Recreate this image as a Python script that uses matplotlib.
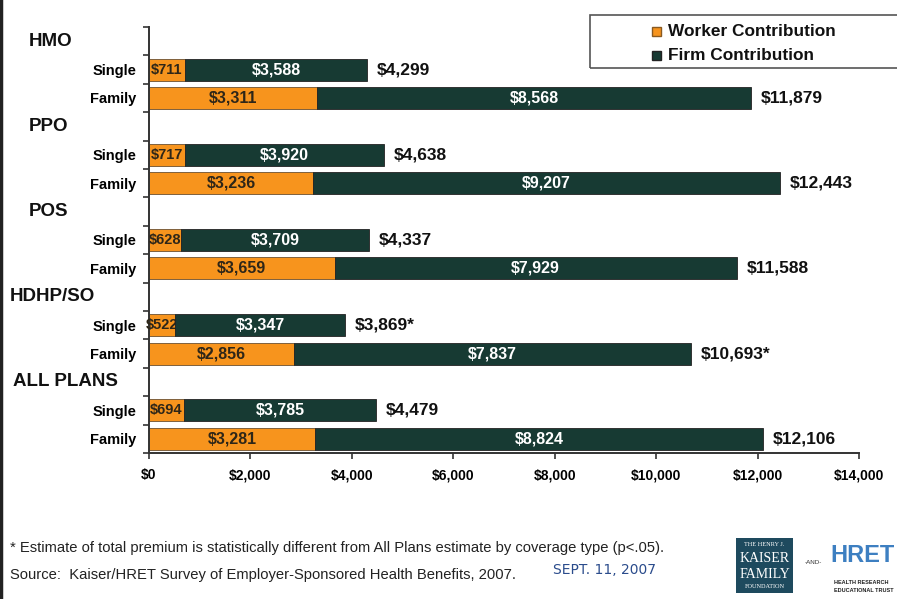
import matplotlib
matplotlib.use("Agg")
import matplotlib.pyplot as plt
import matplotlib.patches as mpatches
import matplotlib.transforms as mtransforms
import numpy as np

plt.rcParams["font.family"] = ["Liberation Sans", "DejaVu Sans"]

# ── Premium data (annual, 2007) ───────────────────────────────────────────────
plans = ["HMO", "PPO", "POS", "HDHP/SO", "ALL PLANS"]
coverage = ["Single", "Family"]

worker_single = [711, 717, 628, 522, 694]
firm_single = [3588, 3920, 3709, 3347, 3785]
total_single = [4299, 4638, 4337, 3869, 4479]

worker_family = [3311, 3236, 3659, 2856, 3281]
firm_family = [8568, 9207, 7929, 7837, 8824]
total_family = [11879, 12443, 11588, 10693, 12106]

# plans whose total differs significantly from All Plans
significant = [False, False, False, True, False]

x_ticks = [0, 2000, 4000, 6000, 8000, 10000, 12000, 14000]

ORANGE = "#F7941D"
FIRM = "#173A33"

W, H = 897, 599
fig = plt.figure(figsize=(W / 100, H / 100), dpi=100)
ax = fig.add_axes([149 / W, 1 - 453 / H, (859 - 149) / W, (453 - 27) / H])


def fx(x):
    return x / W


def fy(y):
    return 1 - y / H


# each plan takes 3 rows: header, single, family
n_rows = len(plans) * 3
rows_y, rows_lbl = [], []
for i, plan in enumerate(plans):
    base = i * 3
    for j, (w, f, t) in enumerate([(worker_single[i], firm_single[i], total_single[i]),
                                   (worker_family[i], firm_family[i], total_family[i])]):
        y = base + 1 + j + 0.5
        rows_y.append(y)
        rows_lbl.append(coverage[j])
        ax.barh(y, w, height=0.77, color=ORANGE, edgecolor="#6b5030",
                linewidth=0.6, zorder=2)
        ax.barh(y, f, left=w, height=0.77, color=FIRM, edgecolor="#222222",
                linewidth=0.6, zorder=4)
        # narrow single-coverage worker bars get a slightly smaller label
        wsize = 10.5 if j == 0 else 11.5
        ax.text(w / 2, y, f"${w:,}", ha="center", va="center",
                fontsize=wsize, fontweight="bold", color="#2e2618", zorder=3)
        ax.text(w + f / 2, y, f"${f:,}", ha="center", va="center",
                fontsize=11.5, fontweight="bold", color="white", zorder=5)
        star = "*" if significant[i] else ""
        ax.annotate(f"${t:,}{star}", xy=(w + f, y), xytext=(7, 0),
                    textcoords="offset points", ha="left", va="center",
                    fontsize=12.5, fontweight="bold", color="#111111")

ax.set_xlim(0, 14000)
ax.set_ylim(n_rows, 0)

ax.set_yticks(rows_y)
ax.set_yticklabels(rows_lbl, fontsize=10.5, fontweight="bold")
ax.set_yticks(np.arange(0, n_rows + 1), minor=True)
ax.tick_params(axis="y", which="major", length=0, pad=9)
ax.tick_params(axis="y", which="minor", length=4, width=1.2, color="#333333")

ax.set_xticks(x_ticks)
ax.set_xticklabels([f"${v:,}" for v in x_ticks], fontsize=10, fontweight="bold")
ax.tick_params(axis="x", length=4, width=1.2, color="#333333", pad=7)

for side in ["top", "right"]:
    ax.spines[side].set_visible(False)
for side in ["left", "bottom"]:
    ax.spines[side].set_linewidth(1.4)
    ax.spines[side].set_color("#333333")

# plan headers on the left
trans = mtransforms.blended_transform_factory(fig.transFigure, ax.transData)
header_x = [29, 29, 29, 10, 13]
for i, plan in enumerate(plans):
    ax.text(fx(header_x[i]), i * 3 + 0.5, plan, transform=trans, ha="left",
            va="center", fontsize=13.5, fontweight="bold", color="#111111",
            clip_on=False)

# legend box
fig.patches.append(mpatches.Rectangle((fx(590), fy(68)), fx(320), 53 / H,
                                      transform=fig.transFigure, fill=False,
                                      edgecolor="#555555", linewidth=1.2))
fig.patches.append(mpatches.Rectangle((fx(652), fy(36)), fx(9), 9 / H,
                                      transform=fig.transFigure, facecolor=ORANGE,
                                      edgecolor="#8a5a20", linewidth=1))
fig.patches.append(mpatches.Rectangle((fx(652), fy(60)), fx(9), 9 / H,
                                      transform=fig.transFigure, facecolor=FIRM,
                                      edgecolor="#222222", linewidth=1))
fig.text(fx(668), fy(31), "Worker Contribution", ha="left", va="center",
         fontsize=12.4, fontweight="bold", color="#111111")
fig.text(fx(668), fy(55), "Firm Contribution", ha="left", va="center",
         fontsize=12.4, fontweight="bold", color="#111111")

# footnotes
fig.text(fx(10), fy(548), "* Estimate of total premium is statistically different "
         "from All Plans estimate by coverage type (p<.05).",
         ha="left", va="center", fontsize=10.6, color="#222222")
fig.text(fx(10), fy(575), "Source:  Kaiser/HRET Survey of Employer-Sponsored "
         "Health Benefits, 2007.", ha="left", va="center", fontsize=10.6,
         color="#222222")
fig.text(fx(553), fy(570), "SEPT. 11, 2007", ha="left", va="center",
         fontsize=10, color="#2B4C8C", family="DejaVu Sans")

# Kaiser logo block
fig.patches.append(mpatches.Rectangle((fx(736), fy(593)), fx(57), 55 / H,
                                      transform=fig.transFigure,
                                      facecolor="#1E4A5E", edgecolor="none"))
fig.text(fx(764.5), fy(545), "THE HENRY J.", ha="center", va="center",
         fontsize=4.5, color="white", family="Liberation Serif")
fig.text(fx(764.5), fy(559), "KAISER", ha="center", va="center",
         fontsize=10, color="white", family="Liberation Serif")
fig.text(fx(764.5), fy(574), "FAMILY", ha="center", va="center",
         fontsize=10, color="white", family="Liberation Serif")
fig.text(fx(764.5), fy(587), "FOUNDATION", ha="center", va="center",
         fontsize=4.5, color="white", family="Liberation Serif")
fig.text(fx(813), fy(563), "-AND-", ha="center", va="center",
         fontsize=4.5, color="#333333")
fig.text(fx(830), fy(556), "HRET", ha="left", va="center",
         fontsize=17, fontweight="bold", color="#3D7FC1")
fig.text(fx(834), fy(582), "HEALTH RESEARCH", ha="left", va="center",
         fontsize=4, fontweight="bold", color="#222222")
fig.text(fx(834), fy(591), "EDUCATIONAL TRUST", ha="left", va="center",
         fontsize=4, fontweight="bold", color="#222222")

# left page border
fig.add_artist(plt.Line2D([fx(1), fx(1)], [0, 1], transform=fig.transFigure,
                          color="#222222", linewidth=2.5))

fig.savefig("out.png", dpi=100)
